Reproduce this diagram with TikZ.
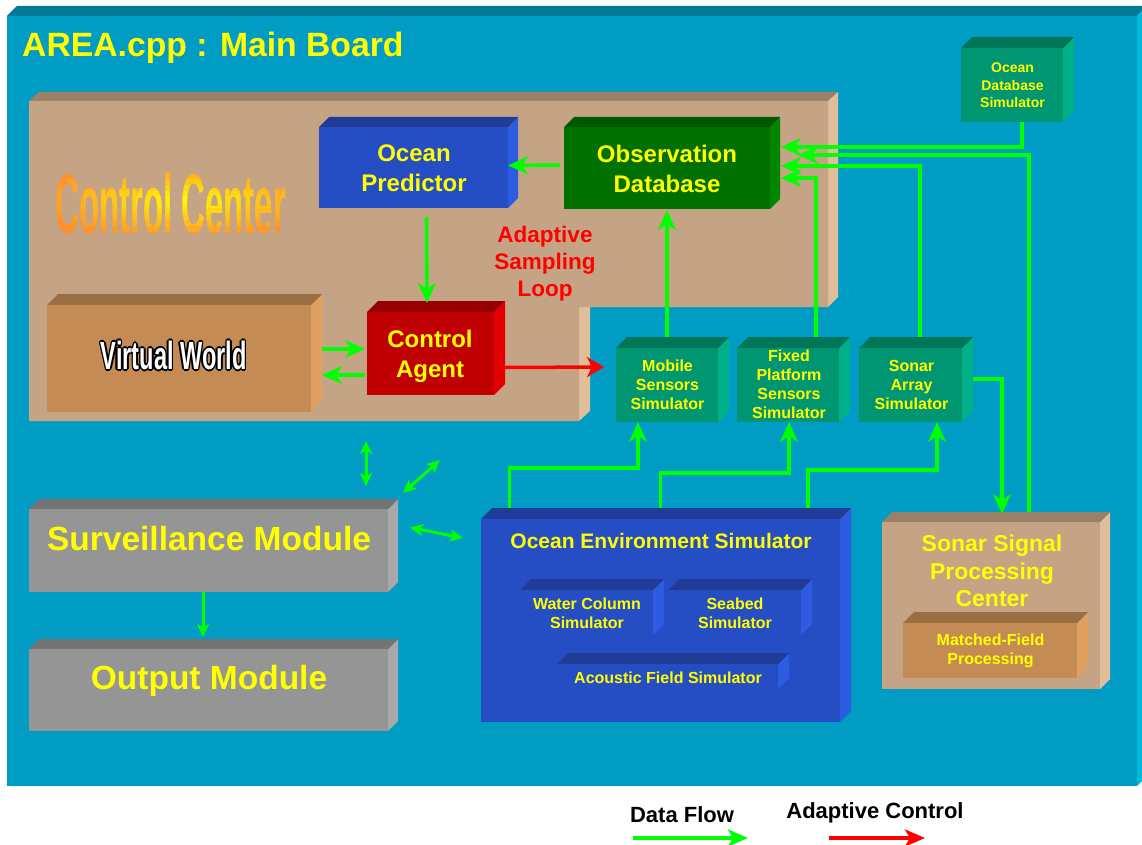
\documentclass[tikz,border=0pt]{standalone}
\usepackage{fontspec}
\setmainfont{Liberation Sans}
\usepackage{graphicx}
\usetikzlibrary{arrows.meta,fit}
\definecolor{board}{RGB}{0,156,196}
\definecolor{boardtop}{RGB}{0,122,150}
\definecolor{boardside}{RGB}{0,186,222}
\definecolor{tanf}{RGB}{196,164,132}
\definecolor{tant}{RGB}{154,128,102}
\definecolor{tans}{RGB}{224,190,154}
\definecolor{vwf}{RGB}{196,140,84}
\definecolor{vwt}{RGB}{152,110,66}
\definecolor{vws}{RGB}{224,160,96}
\definecolor{bluef}{RGB}{38,78,196}
\definecolor{bluet}{RGB}{32,60,150}
\definecolor{blues}{RGB}{46,92,224}
\definecolor{greenf}{RGB}{0,112,0}
\definecolor{greent}{RGB}{0,88,0}
\definecolor{greens}{RGB}{0,134,0}
\definecolor{redf}{RGB}{192,0,0}
\definecolor{redt}{RGB}{150,0,0}
\definecolor{reds}{RGB}{228,0,0}
\definecolor{tealf}{RGB}{0,150,114}
\definecolor{tealt}{RGB}{0,118,88}
\definecolor{teals}{RGB}{0,176,136}
\definecolor{grayf}{RGB}{149,149,149}
\definecolor{grayt}{RGB}{115,115,115}
\definecolor{grays}{RGB}{168,168,168}
\definecolor{yel}{RGB}{255,255,0}
\definecolor{flowgreen}{RGB}{0,255,0}
\definecolor{ctrlred}{RGB}{255,0,0}
\definecolor{ccyel}{RGB}{255,252,0}
\definecolor{ccor}{RGB}{255,145,45}
\newsavebox\ccbox
\newsavebox\vwbox
% [depth]{x1}{y1}{x2}{y2}{front}{top}{side}{name}
\newcommand\threed[9][10]{%
  \fill[#8] (#4,#3) -- (#4+#1,#3-#1) -- (#4+#1,#5-#1) -- (#4,#5) -- cycle;
  \fill[#7] (#2,#3) -- (#2+#1,#3-#1) -- (#4+#1,#3-#1) -- (#4,#3) -- cycle;
  \node[fit={(#2,#3) (#4,#5)}, inner sep=0pt, outer sep=0pt, fill=#6] (#9) {};
}
\begin{document}
\setbox\ccbox=\hbox{\resizebox{231pt}{61pt}{\bfseries Control Center}}%
\setbox\vwbox=\hbox{\resizebox{146pt}{28.5pt}{\bfseries Virtual World}}%
\begin{tikzpicture}[x=1pt,y=-1pt,
  flow/.style={draw=flowgreen, line width=3.5pt, -{Stealth[length=20pt,width=18pt,inset=6pt]}},
  dflow/.style={draw=flowgreen, line width=3pt, {Stealth[length=13pt,width=12pt,inset=3pt]}-{Stealth[length=13pt,width=12pt,inset=3pt]}},
  sflow/.style={draw=flowgreen, line width=3pt, -{Stealth[length=13pt,width=12pt,inset=3pt]}},
  ctrl/.style={draw=ctrlred, line width=3.5pt, -{Stealth[length=17pt,width=20pt,inset=5pt]}},
  lbl/.style={text=yel, inner sep=0pt, align=center},
  fbig/.style={font=\bfseries\fontsize{24}{30}\selectfont},
  fmid/.style={font=\bfseries\fontsize{23}{27.5}\selectfont},
  fsml/.style={font=\bfseries\fontsize{16}{19}\selectfont},
  ftiny/.style={font=\bfseries\fontsize{14}{17.5}\selectfont},
  fhuge/.style={font=\bfseries\fontsize{33.5}{40}\selectfont},
  legend/.style={text=black, inner sep=0pt, font=\bfseries\fontsize{22}{26}\selectfont}]
\useasboundingbox (0,0) rectangle (1142,845);
\clip (0,0) rectangle (1142,845);
\fill[white] (0,0) rectangle (1142,845);
% main board
\fill[boardtop] (7,16) -- (17,6) -- (1147,6) -- (1137,16) -- cycle;
\fill[boardside] (1137,16) -- (1147,6) -- (1147,776) -- (1137,786) -- cycle;
\node[fit={(7,16) (1137,786)}, inner sep=0pt, outer sep=0pt, fill=board] (board) {};
\node[text=yel, inner sep=0pt, anchor=base west, font=\bfseries\fontsize{33.7}{40}\selectfont] (title) at (22,57) {AREA.cpp : Main Board};
% control center
\fill[tant] (29,101) -- (39,92) -- (838,92) -- (828,101) -- cycle;
\fill[tans] (828,101) -- (838,92) -- (838,297) -- (828,307) -- cycle;
\fill[tans] (579,307) -- (590,307) -- (590,411) -- (579,421) -- cycle;
\fill[tanf] (29,101) -- (828,101) -- (828,307) -- (579,307) -- (579,421) -- (29,421) -- cycle;
\node[fit={(29,101) (828,421)}, inner sep=0pt, outer sep=0pt] (cc) {};
% Control Center gradient text
\foreach \i in {0,...,13} {
  \foreach \j in {0,...,11} {
    \pgfmathsetmacro\xa{50+\i*17.3}
    \pgfmathsetmacro\ya{168+\j*5.85}
    \pgfmathsetmacro\xc{(\xa+8.65-185)/150}
    \pgfmathsetmacro\yc{(\ya+2.9-201)/38}
    \pgfmathsetmacro\p{max(0,100*(1-sqrt(\xc*\xc+\yc*\yc)))}
    \colorlet{cccur}{ccyel!\p!ccor}
    \begin{scope}
      \clip (\xa-0.3,\ya-0.3) rectangle (\xa+17.6,\ya+6.15);
      \node[inner sep=0pt, text=cccur, anchor=base west] (cct-\i-\j) at (55,233) {\usebox\ccbox};
    \end{scope}
  }
}
% boxes
\threed{319}{127}{508}{208}{bluef}{bluet}{blues}{op}
\threed{564}{127}{770}{209}{greenf}{greent}{greens}{obs}
\threed[11]{47}{305}{311}{412}{vwf}{vwt}{vws}{vw}
\threed[11]{367}{312}{494}{395}{redf}{redt}{reds}{ca}
\threed[11]{616}{348}{718}{422}{tealf}{tealt}{teals}{ms}
\threed[11]{737}{348}{839}{422}{tealf}{tealt}{teals}{fp}
\threed[11]{859}{348}{962}{422}{tealf}{tealt}{teals}{sa}
\threed[11]{961}{48}{1063}{122}{tealf}{tealt}{teals}{odb}
\threed{29}{509}{388}{592}{grayf}{grayt}{grays}{sm}
\threed{29}{649}{388}{731}{grayf}{grayt}{grays}{om}
\threed[11]{481}{519}{840}{722}{bluef}{bluet}{blues}{oes}
\threed[11]{520}{590}{653}{635}{bluef}{bluet}{blues}{wc}
\threed[11]{668}{590}{801}{635}{bluef}{bluet}{blues}{sb}
\threed[11]{557}{664}{778}{689}{bluef}{bluet}{blues}{af}
\threed{882}{522}{1100}{689}{tanf}{tant}{tans}{sspc}
\threed[11]{903}{623}{1077}{678}{vwf}{vwt}{vws}{mfp}
% Virtual World outlined text
\foreach \a in {0,45,...,315} {
  \node[inner sep=0pt, text=black, anchor=base west] (vwo-\a) at ([shift={(\a:1.6)}]100.5,369.5) {\usebox\vwbox};
}
\node[inner sep=0pt, text=white, anchor=base west] (vw-t) at (100.5,369.5) {\usebox\vwbox};
% connectors
\draw[flow] ([shift={(-4,-3)}]obs.west) -- ([shift={(0,-2)}]op.east);
\draw[flow] ([shift={(13,9)}]op.south) -- ([shift={(-3.5,-9)}]ca.north);
\draw[flow] ([shift={(11,-9.5)}]vw.east) -- ([shift={(-2,-4.5)}]ca.west);
\draw[flow] ([shift={(-2,21.5)}]ca.west) -- ([shift={(11,16.5)}]vw.east);
\draw[ctrl] ([shift={(11,14)}]ca.east) -- ([shift={(-12,-18)}]ms.west);
\draw[flow] ([shift={(0,-11)}]ms.north) -- ([shift={(0,1)}]obs.south);
\draw[flow] ([shift={(28,-11)}]fp.north) |- ([shift={(11,10)}]obs.east);
\draw[flow] ([shift={(9.5,-11)}]sa.north) |- ([shift={(11,-2)}]obs.east);
\draw[flow] ([shift={(10,0)}]odb.south) |- ([shift={(11,-21)}]obs.east);
\draw[flow] ([shift={(38,-10)}]sspc.north) |- ([shift={(28,-13)}]obs.east);
\draw[flow] ([shift={(11,-6)}]sa.east) -| ([shift={(11,-8)}]sspc.north);
\draw[flow] ([shift={(-151,-11)}]oes.north) -- ++(0,-40) -| ([shift={(-29,0)}]ms.south);
\draw[flow] ([shift={(0,-11)}]oes.north) -- ++(0,-35) -| ([shift={(1,0)}]fp.south);
\draw[flow] ([shift={(147.5,-11)}]oes.north) -- ++(0,-38) -| ([shift={(26.5,0)}]sa.south);
\draw[dflow] ([shift={(-62.5,20)}]cc.south) -- ([shift={(157.5,-23)}]sm.north);
\draw[dflow] ([shift={(11.5,39)}]cc.south) -- ([shift={(15,-16)}]sm.north east);
\draw[dflow] ([shift={(22,-23)}]sm.east) -- ([shift={(-18,-82.5)}]oes.west);
\draw[sflow] ([shift={(-5.5,0)}]sm.south) -- ([shift={(-5.5,-12)}]om.north);
% labels
\node[lbl, fbig] (op-t) at (414,168.3) {Ocean\\Predictor};
\node[lbl, fbig] (obs-t) at (667,169.3) {Observation\\Database};
\node[lbl, fbig] (ca-t) at (430,356) {Control\\Agent};
\node[lbl, text=ctrlred, font=\bfseries\fontsize{22.5}{27}\selectfont] (asl) at (545,263.4) {Adaptive\\Sampling\\Loop};
\node[lbl, fsml] (ms-t) at (667.5,385) {Mobile\\Sensors\\Simulator};
\node[lbl, fsml] (fp-t) at (789,384.7) {Fixed\\Platform\\Sensors\\Simulator};
\node[lbl, fsml] (sa-t) at (911.5,385) {Sonar\\Array\\Simulator};
\node[lbl, ftiny] (odb-t) at (1012.5,85.4) {Ocean\\Database\\Simulator};
\node[lbl, font=\bfseries\fontsize{21}{25}\selectfont, anchor=base] (oes-t) at (661,548) {Ocean Environment Simulator};
\node[lbl, fsml] (wc-t) at (587,613.7) {Water Column\\Simulator};
\node[lbl, fsml] (sb-t) at (735,613.7) {Seabed\\Simulator};
\node[lbl, fsml, anchor=base] (af-t) at (668,683) {Acoustic Field Simulator};
\node[lbl, fmid] (sspc-t) at (992,571) {Sonar Signal\\Processing\\Center};
\node[lbl, fsml] (mfp-t) at (990.5,651.3) {Matched-Field\\Processing};
\node[lbl, fhuge, anchor=base] (sm-t) at (209,550) {Surveillance Module};
\node[lbl, fhuge, anchor=base] (om-t) at (209,689) {Output Module};
% legend
\node[legend, anchor=base] (lg-df) at (682,822) {Data Flow};
\node[legend, anchor=base] (lg-ac) at (875,818) {Adaptive Control};
\coordinate (lga1) at (633,838);
\coordinate (lga2) at (748,838);
\coordinate (lgb1) at (829,838);
\coordinate (lgb2) at (925,838);
\draw[flow, line width=4pt, -{Stealth[length=20pt,width=17pt,inset=5pt]}] (lga1) -- (lga2);
\draw[ctrl, line width=4pt, -{Stealth[length=20pt,width=17pt,inset=5pt]}] (lgb1) -- (lgb2);
\end{tikzpicture}
\end{document}
